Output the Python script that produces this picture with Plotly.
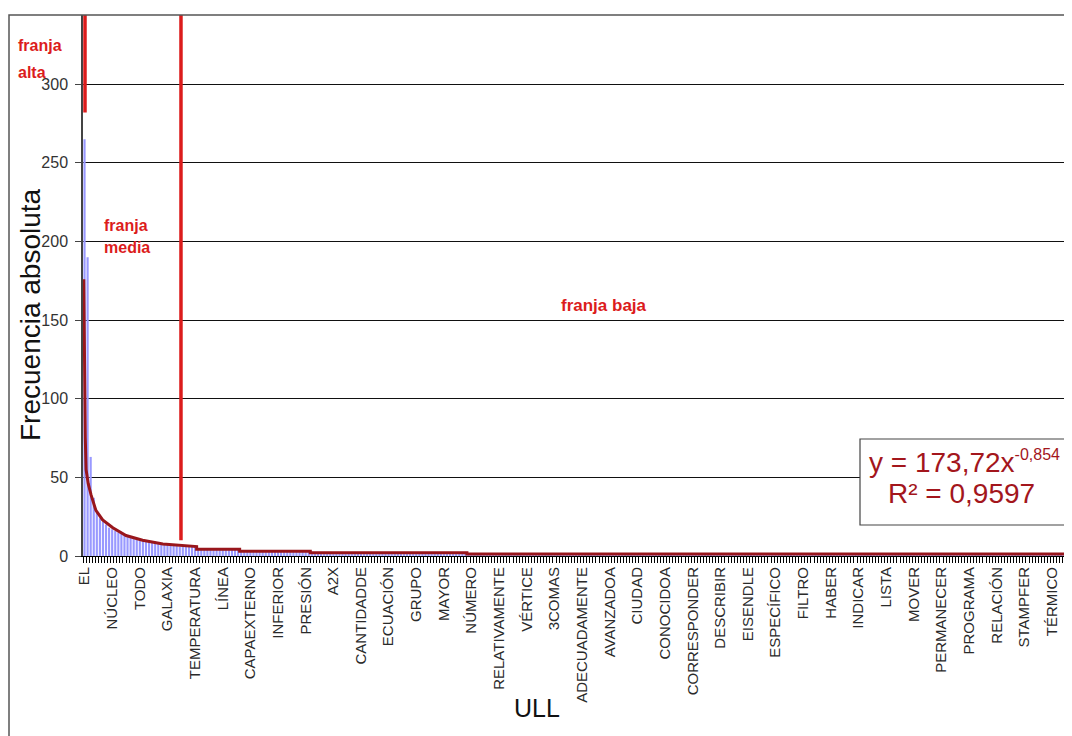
import plotly.graph_objects as go

# la pagina deja 8 px de margen: la figura ocupa el resto de la ventana
OFF = 8
W, H = 1072 - OFF, 736 - OFF
L, R, T, B = 83 - OFF, 0, 15 - OFF, 180

# frecuencia absoluta de cada palabra, ordenadas de mayor a menor
frec_cabeza = [265, 190, 63, 37, 28, 24, 22, 20, 18, 17, 16, 15, 14, 13, 12, 12,
               11, 11, 10, 10, 9, 9, 9, 8, 8, 8, 7, 7, 7, 7, 7, 6, 6, 6, 6, 6, 6]
frec_cola_valor = [4, 3, 2, 1]
frec_cola_veces = [14, 23, 51, 197]

# etiquetas visibles del eje (una de cada 9 palabras)
etiquetas = ["EL", "NÚCLEO", "TODO", "GALAXIA", "TEMPERATURA", "LÍNEA", "CAPAEXTERNO",
             "INFERIOR", "PRESIÓN", "A2X", "CANTIDADDE", "ECUACIÓN", "GRUPO", "MAYOR",
             "NÚMERO", "RELATIVAMENTE", "VÉRTICE", "3COMAS", "ADECUADAMENTE", "AVANZADOA",
             "CIUDAD", "CONOCIDOA", "CORRESPONDER", "DESCRIBIR", "EISENDLE", "ESPECÍFICO",
             "FILTRO", "HABER", "INDICAR", "LISTA", "MOVER", "PERMANECER", "PROGRAMA",
             "RELACIÓN", "STAMPFER", "TÉRMICO"]
paso_etiqueta = 9

# curva de ajuste
curva_x = [0.75, 1.0, 1.25, 1.5, 2.2, 3.1, 4.7, 6.9, 10.2, 14.5, 19.9, 26.5, 34.0,
           37.5, 37.5, 51.5, 51.5, 74.5, 74.5, 125.5, 125.5, 322.5]
curva_y = [176, 110, 75, 55, 46, 39, 29, 23, 18, 13, 10, 7.6, 6.2,
           6.0, 4.3, 4.3, 3.0, 3.0, 2.0, 2.0, 1.3, 1.3]

# limites de las franjas (posicion en el eje, valor donde acaba la linea)
limite_alta, corte_alta = 1.15, 282
limite_media, corte_media = 32.4, 10

ecuacion = "y = 173,72x"
exponente = "-0,854"
r2 = "R² = 0,9597"

frecuencias = list(frec_cabeza)
for v, n in zip(frec_cola_valor, frec_cola_veces):
    frecuencias += [v] * n
posiciones = list(range(1, len(frecuencias) + 1))
ticks = [1 + i * paso_etiqueta for i in range(len(etiquetas))]

Y_MAX = 344
ROJO = "#dc1c1c"
GRANATE = "#99161c"
ARIAL = "Liberation Sans, Arial, sans-serif"


def pp(xp, yp):
    """pixel de la ventana -> coordenadas paper"""
    xp, yp = xp - OFF, yp - OFF
    return (xp - L) / (W - L - R), (H - B - yp) / (H - T - B)


fig = go.Figure()
fig.add_trace(go.Bar(x=posiciones, y=frecuencias, marker_color="#9999ff",
                     marker_line_width=0, hoverinfo="x+y"))
fig.add_trace(go.Scatter(x=curva_x, y=curva_y, mode="lines",
                         line=dict(color=GRANATE, width=3), hoverinfo="skip"))

shapes = []
for xl, yc in [(limite_alta, corte_alta), (limite_media, corte_media)]:
    shapes.append(dict(type="line", xref="x", yref="y", x0=xl, x1=xl, y0=yc, y1=Y_MAX,
                       line=dict(color=ROJO, width=3.5), layer="above"))

# marco exterior del grafico
fx0, fy1 = pp(9, 15)
shapes.append(dict(type="rect", xref="paper", yref="paper", x0=fx0, x1=1.05, y0=-0.5, y1=fy1,
                   line=dict(color="#555555", width=1.5), fillcolor="rgba(0,0,0,0)"))
# recuadro de la ecuacion
bx0, by1 = pp(860, 439)
bx1, by0 = pp(1085, 525)
shapes.append(dict(type="rect", xref="paper", yref="paper", x0=bx0, x1=bx1, y0=by0, y1=by1,
                   line=dict(color="#444444", width=1.2), fillcolor="white", layer="above"))

annotations = []


def texto(t, xp, yp, size, color, xanchor="left", angle=0):
    ax, ay = pp(xp, yp)
    annotations.append(dict(text=t, x=ax, y=ay, xref="paper", yref="paper",
                            xanchor=xanchor, yanchor="middle", showarrow=False,
                            textangle=angle, font=dict(size=size, color=color, family=ARIAL)))


texto("<b>franja</b>", 16, 46, 16, ROJO)
texto("<b>alta</b>", 16, 72, 16, ROJO)
texto("<b>franja</b>", 102, 225, 16, ROJO)
texto("<b>media</b>", 102, 247, 16, ROJO)
texto("<b>franja baja</b>", 604, 306, 17, ROJO, xanchor="center")
texto(ecuacion + "<sup><span style='font-size:16px'>" + exponente + "</span></sup>",
      964, 462, 28, "#a3161c", xanchor="center")
texto(r2, 961, 493, 28, "#a3161c", xanchor="center")
texto("ULL", 537, 708, 25, "#111111", xanchor="center")
texto("Frecuencia absoluta", 30, 315, 28, "#111111", xanchor="center", angle=-90)

fig.update_layout(
    width=W, height=H,
    margin=dict(l=L, r=R, t=T, b=B),
    plot_bgcolor="white", paper_bgcolor="white",
    showlegend=False, bargap=0.3,
    shapes=shapes, annotations=annotations,
)
fig.update_xaxes(
    range=[0.5, len(frecuencias) + 0.5],
    tickmode="array", tickvals=ticks, ticktext=etiquetas, tickangle=-90,
    ticks="", tickfont=dict(size=15, color="#2a2a2a", family=ARIAL),
    ticklabelstandoff=4,
    showline=True, linecolor="black", linewidth=1, showgrid=False, zeroline=False,
    minor=dict(tickmode="linear", tick0=0.5, dtick=1, ticks="outside", ticklen=6,
               tickcolor="black", tickwidth=1, showgrid=False),
)
fig.update_yaxes(
    range=[0, Y_MAX], tickvals=[0, 50, 100, 150, 200, 250, 300],
    ticks="outside", ticklen=6, tickcolor="#444444", ticklabelstandoff=4,
    tickfont=dict(size=16, color="#333333", family=ARIAL),
    showline=True, linecolor="#444444", linewidth=1.5,
    showgrid=True, gridcolor="#111111", gridwidth=1, zeroline=False,
)

fig.write_html("out.html")
